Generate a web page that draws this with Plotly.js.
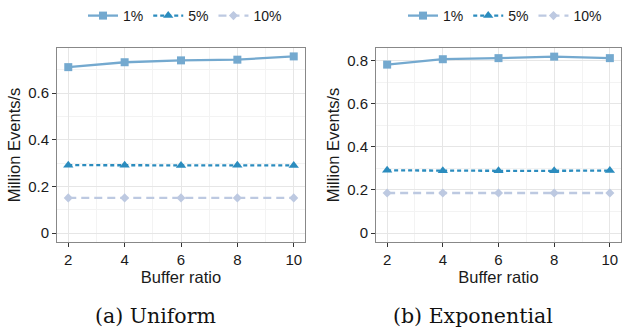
<!DOCTYPE html>
<html>
<head>
<meta charset="utf-8">
<script src="https://cdn.plot.ly/plotly-3.0.1.min.js"></script>
<style>html,body{margin:0;padding:0;background:#fff;}#chart{width:623px;height:331px;}</style>
</head>
<body>
<div id="chart"></div>
<script>
// Data
const bufferRatio = [2, 4, 6, 8, 10];
const seriesNames = ["1%", "5%", "10%"];
const uniform1 = [0.711, 0.732, 0.740, 0.743, 0.757];
const uniform5 = [0.291, 0.291, 0.290, 0.291, 0.290];
const uniform10 = [0.151, 0.151, 0.151, 0.151, 0.151];
const expo1 = [0.781, 0.806, 0.811, 0.818, 0.811];
const expo5 = [0.291, 0.289, 0.289, 0.289, 0.290];
const expo10 = [0.186, 0.186, 0.186, 0.186, 0.186];
const captions = ["(a) Uniform", "(b) Exponential"];
const yTitle = "Million Events/s";
const xTitle = "Buffer ratio";

const colors = ["#74a9cf", "#2b8cbe", "#bdc9e1"];
const dashes = ["solid", "4px,3px", "8px,5px"];
const symbols = ["square", "triangle-up", "diamond"];
const msizes = [8, 9, 7];

function mk(y, i, xa, ya, leg) {
  return {
    x: bufferRatio, y: y, name: seriesNames[i], type: "scatter", mode: "lines+markers",
    xaxis: xa, yaxis: ya, legend: leg,
    line: {color: colors[i], dash: dashes[i], width: 2.3},
    marker: {color: colors[i], symbol: symbols[i], size: msizes[i]}
  };
}
const traces = [
  mk(uniform1, 0, "x", "y", "legend"), mk(uniform5, 1, "x", "y", "legend"), mk(uniform10, 2, "x", "y", "legend"),
  mk(expo1, 0, "x2", "y2", "legend2"), mk(expo5, 1, "x2", "y2", "legend2"), mk(expo10, 2, "x2", "y2", "legend2")
];

const fam = "Liberation Sans, Arial, sans-serif";
const tickFont = {family: fam, size: 15, color: "#1a1a1a"};
const titleFont = {family: fam, size: 16.5, color: "#1a1a1a"};
function xax(dom, anchor) {
  return {
    domain: dom, anchor: anchor, range: [1.6, 10.4], tickvals: [2, 4, 6, 8, 10],
    showgrid: true, gridcolor: "#e6e6e6", gridwidth: 1,
    minor: {tickvals: [3, 5, 7, 9], showgrid: true, gridcolor: "#f3f3f3", gridwidth: 1, ticks: ""},
    showline: true, mirror: true, linecolor: "#888", linewidth: 1,
    ticks: "outside", ticklen: 4, tickcolor: "#333", zeroline: false,
    tickfont: tickFont,
    title: {text: xTitle, font: titleFont, standoff: 2}
  };
}
function yax(dom, anchor, range, tv) {
  return {
    domain: dom, anchor: anchor, range: range, tickvals: tv,
    ticktext: tv.map(v => v === 0 ? "0" : v.toFixed(1)),
    showgrid: true, gridcolor: "#e6e6e6", gridwidth: 1,
    minor: {tickvals: [0.1, 0.3, 0.5, 0.7], showgrid: true, gridcolor: "#f3f3f3", gridwidth: 1, ticks: ""},
    showline: true, mirror: true, linecolor: "#888", linewidth: 1,
    ticks: "outside", ticklen: 4, tickcolor: "#333", zeroline: false,
    tickfont: tickFont,
    title: {text: yTitle, font: titleFont, standoff: 3}
  };
}
const ydom = [1 - 242/331, 1 - 48/331];
const legendBase = {
  orientation: "h", xanchor: "center", yanchor: "middle", y: 0.952,
  font: {family: fam, size: 14, color: "#1a1a1a"}, itemwidth: 30, tracegroupgap: 0,
  bgcolor: "rgba(0,0,0,0)"
};
const capFont = {family: "DejaVu Serif, Liberation Serif, serif", size: 20.5, color: "#111"};
const layout = {
  width: 623, height: 331, margin: {l: 0, r: 0, t: 0, b: 0},
  paper_bgcolor: "#fff", plot_bgcolor: "#fff", showlegend: true,
  xaxis: xax([57/623, 305/623], "y"),
  yaxis: yax(ydom, "x", [-0.038, 0.793], [0, 0.2, 0.4, 0.6]),
  xaxis2: xax([376/623, 621/623], "y2"),
  yaxis2: yax(ydom, "x2", [-0.041, 0.858], [0, 0.2, 0.4, 0.6, 0.8]),
  legend: Object.assign({x: 185/623}, legendBase),
  legend2: Object.assign({x: 505/623}, legendBase),
  annotations: [
    {text: captions[0], xref: "paper", yref: "paper", x: 155/623, y: 1 - 316/331, showarrow: false,
     xanchor: "center", yanchor: "middle", font: capFont},
    {text: captions[1], xref: "paper", yref: "paper", x: 473/623, y: 1 - 316/331, showarrow: false,
     xanchor: "center", yanchor: "middle", font: capFont}
  ]
};
Plotly.newPlot("chart", traces, layout, {displayModeBar: false, staticPlot: true});
</script>
</body>
</html>
